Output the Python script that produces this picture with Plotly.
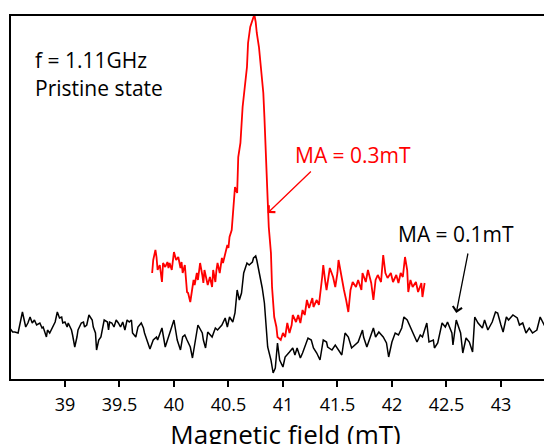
import plotly.graph_objects as go

# Black trace (MA = 0.1 mT): field (mT) and signal (a.u.)
field_black = [38.50, 38.52, 38.54, 38.57, 38.61, 38.64, 38.66, 38.68, 38.70, 38.72, 38.74, 38.77, 38.79, 38.80,
               38.83, 38.84, 38.86, 38.89, 38.91, 38.93, 38.95, 38.97, 38.98, 39.00, 39.02, 39.03, 39.06, 39.07,
               39.09, 39.11, 39.12, 39.15, 39.17, 39.18, 39.20, 39.22, 39.25, 39.26, 39.28, 39.29, 39.31, 39.33,
               39.35, 39.36, 39.39, 39.40, 39.41, 39.43, 39.45, 39.47, 39.49, 39.51, 39.53, 39.55, 39.57, 39.59,
               39.61, 39.62, 39.65, 39.67, 39.70, 39.72, 39.73, 39.75, 39.78, 39.81, 39.84, 39.85, 39.89, 39.92,
               39.95, 39.98, 40.00, 40.03, 40.06, 40.08, 40.10, 40.12, 40.15, 40.17, 40.19, 40.22, 40.26, 40.27,
               40.29, 40.31, 40.35, 40.38, 40.40, 40.44, 40.47, 40.49, 40.51, 40.54, 40.56, 40.58, 40.60, 40.62,
               40.64, 40.67, 40.69, 40.72, 40.73, 40.75, 40.76, 40.78, 40.81, 40.83, 40.84, 40.86, 40.89, 40.91,
               40.93, 40.95, 40.97, 41.00, 41.02, 41.04, 41.06, 41.09, 41.11, 41.13, 41.16, 41.18, 41.20, 41.23,
               41.26, 41.28, 41.31, 41.34, 41.37, 41.40, 41.41, 41.45, 41.48, 41.50, 41.54, 41.57, 41.60, 41.63,
               41.66, 41.69, 41.73, 41.74, 41.77, 41.80, 41.83, 41.85, 41.88, 41.92, 41.95, 41.97, 42.00, 42.03,
               42.06, 42.09, 42.11, 42.14, 42.17, 42.19, 42.23, 42.26, 42.28, 42.32, 42.34, 42.38, 42.39, 42.42,
               42.46, 42.49, 42.51, 42.55, 42.56, 42.59, 42.61, 42.63, 42.65, 42.68, 42.71, 42.74, 42.76, 42.79,
               42.83, 42.85, 42.88, 42.92, 42.95, 42.97, 43.00, 43.02, 43.05, 43.07, 43.11, 43.15, 43.17, 43.20,
               43.23, 43.26, 43.29, 43.33, 43.36, 43.39, 43.42, 43.45, 43.47]
signal_black = [50, 47, 47, 46, 67, 52, 56, 62, 56, 59, 54, 56, 51, 52,
                42, 49, 46, 52, 57, 67, 61, 62, 56, 57, 52, 56, 49, 44,
                32, 42, 49, 56, 57, 52, 54, 64, 59, 52, 46, 29, 39, 42,
                56, 59, 57, 49, 57, 56, 52, 59, 56, 52, 57, 49, 59, 57,
                59, 46, 42, 52, 56, 51, 46, 39, 30, 39, 42, 39, 51, 32,
                42, 52, 59, 39, 29, 42, 44, 39, 32, 21, 36, 54, 46, 39,
                31, 47, 42, 51, 49, 54, 61, 52, 62, 57, 66, 89, 79, 86,
                106, 116, 114, 117, 121, 123, 119, 109, 91, 76, 59, 32, 19, 6,
                11, 36, 19, 12, 22, 24, 27, 31, 24, 31, 21, 26, 32, 41,
                39, 31, 26, 19, 39, 37, 32, 29, 34, 31, 24, 46, 42, 31,
                34, 37, 49, 42, 32, 41, 51, 42, 47, 42, 36, 22, 37, 46,
                44, 51, 62, 59, 52, 47, 37, 44, 42, 56, 37, 39, 31, 36,
                56, 52, 57, 46, 34, 59, 52, 46, 26, 41, 37, 27, 62, 56,
                51, 59, 49, 57, 67, 66, 54, 47, 62, 59, 64, 61, 54, 56,
                46, 51, 46, 49, 62, 56, 49, 41, 44]

# Red trace (MA = 0.3 mT)
field_red = [39.80, 39.81, 39.83, 39.84, 39.85, 39.87, 39.89, 39.90, 39.92, 39.94, 39.95, 39.96, 39.98, 40.00,
             40.02, 40.04, 40.06, 40.07, 40.08, 40.10, 40.12, 40.13, 40.15, 40.17, 40.18, 40.19, 40.21, 40.22,
             40.24, 40.26, 40.27, 40.28, 40.30, 40.31, 40.33, 40.35, 40.36, 40.38, 40.39, 40.40, 40.42, 40.44,
             40.45, 40.47, 40.49, 40.50, 40.51, 40.53, 40.54, 40.56, 40.58, 40.59, 40.61, 40.62, 40.63, 40.65,
             40.67, 40.68, 40.70, 40.73, 40.74, 40.75, 40.76, 40.78, 40.80, 40.82, 40.83, 40.84, 40.85, 40.86,
             40.87, 40.89, 40.90, 40.92, 40.94, 40.95, 40.98, 41.00, 41.02, 41.04, 41.06, 41.08, 41.09, 41.12,
             41.14, 41.16, 41.18, 41.20, 41.22, 41.24, 41.27, 41.28, 41.31, 41.33, 41.36, 41.37, 41.39, 41.40,
             41.43, 41.46, 41.48, 41.50, 41.51, 41.54, 41.56, 41.58, 41.60, 41.62, 41.64, 41.67, 41.69, 41.72,
             41.73, 41.76, 41.78, 41.81, 41.83, 41.85, 41.87, 41.90, 41.92, 41.94, 41.96, 41.99, 42.01, 42.04,
             42.06, 42.08, 42.10, 42.12, 42.14, 42.15, 42.17, 42.19, 42.22, 42.24, 42.27, 42.28, 42.29, 42.30]
signal_red = [106, 119, 129, 122, 109, 114, 97, 116, 112, 117, 111, 116, 109, 127,
              119, 122, 111, 117, 106, 114, 87, 86, 77, 92, 99, 94, 106, 99,
              116, 104, 96, 109, 99, 94, 102, 92, 109, 97, 109, 116, 106, 121,
              116, 126, 134, 131, 142, 149, 166, 192, 186, 222, 236, 256, 272, 292,
              312, 336, 352, 362, 363, 357, 346, 332, 312, 286, 262, 239, 212, 179,
              152, 126, 92, 62, 52, 42, 39, 46, 42, 56, 46, 54, 64, 57,
              64, 56, 69, 64, 79, 71, 81, 72, 79, 74, 102, 114, 96, 89,
              111, 102, 92, 106, 119, 99, 89, 79, 67, 89, 97, 92, 99, 89,
              106, 97, 109, 96, 79, 99, 104, 97, 124, 106, 101, 106, 97, 104,
              96, 106, 102, 122, 109, 87, 99, 92, 97, 87, 96, 82, 92, 96]

x_ticks = [39, 39.5, 40, 40.5, 41, 41.5, 42, 42.5, 43]
x_tick_labels = ["39", "39.5", "40", "40.5", "41", "41.5", "42", "42.5", "43"]

FONT = "Open Sans"

fig = go.Figure()
fig.add_trace(go.Scatter(x=field_black, y=signal_black, mode="lines",
                         line=dict(color="black", width=1.5), showlegend=False))
fig.add_trace(go.Scatter(x=field_red, y=signal_red, mode="lines",
                         line=dict(color="#ff0000", width=1.8), showlegend=False))

# text labels
fig.add_annotation(x=0.040, y=0.878, xref="paper", yref="paper", text="f = 1.11GHz",
                   showarrow=False, xanchor="left", yanchor="middle",
                   font=dict(family=FONT, size=21, color="black"))
fig.add_annotation(x=0.040, y=0.801, xref="paper", yref="paper", text="Pristine state",
                   showarrow=False, xanchor="left", yanchor="middle",
                   font=dict(family=FONT, size=21, color="black"))
fig.add_annotation(x=41.64, y=224, xref="x", yref="y", text="MA = 0.3mT",
                   showarrow=False, xanchor="center", yanchor="middle",
                   font=dict(family=FONT, size=21, color="#ff0000"))
fig.add_annotation(x=42.59, y=145, xref="x", yref="y", text="MA = 0.1mT",
                   showarrow=False, xanchor="center", yanchor="middle",
                   font=dict(family=FONT, size=21, color="black"))

# arrows
fig.add_annotation(x=40.86, y=166, ax=41.27, ay=209, xref="x", yref="y", axref="x", ayref="y",
                   text="", showarrow=True, arrowhead=4, arrowsize=1.4, arrowwidth=1.3,
                   arrowcolor="#ff0000")
fig.add_annotation(x=42.59, y=66, ax=42.70, ay=127, xref="x", yref="y", axref="x", ayref="y",
                   text="", showarrow=True, arrowhead=4, arrowsize=1.4, arrowwidth=1.3,
                   arrowcolor="black")

fig.update_layout(
    width=552, height=444,
    margin=dict(l=3, r=0, t=8, b=73),
    plot_bgcolor="white", paper_bgcolor="white",
    font=dict(family=FONT, color="black"),
    xaxis=dict(range=[38.505, 43.542], tickvals=x_ticks, ticktext=x_tick_labels,
               showgrid=False, zeroline=False, showline=True, mirror=True,
               linecolor="black", linewidth=2, ticks="outside", ticklen=6,
               tickwidth=1.5, tickcolor="black", tickfont=dict(size=18),
               ticklabelstandoff=2,
               title=dict(text="Magnetic field (mT)", font=dict(size=26), standoff=1)),
    yaxis=dict(range=[0, 363], showgrid=False, zeroline=False, showline=True,
               linecolor="black", linewidth=2, showticklabels=False, ticks=""),
)

fig.write_html("out.html")
